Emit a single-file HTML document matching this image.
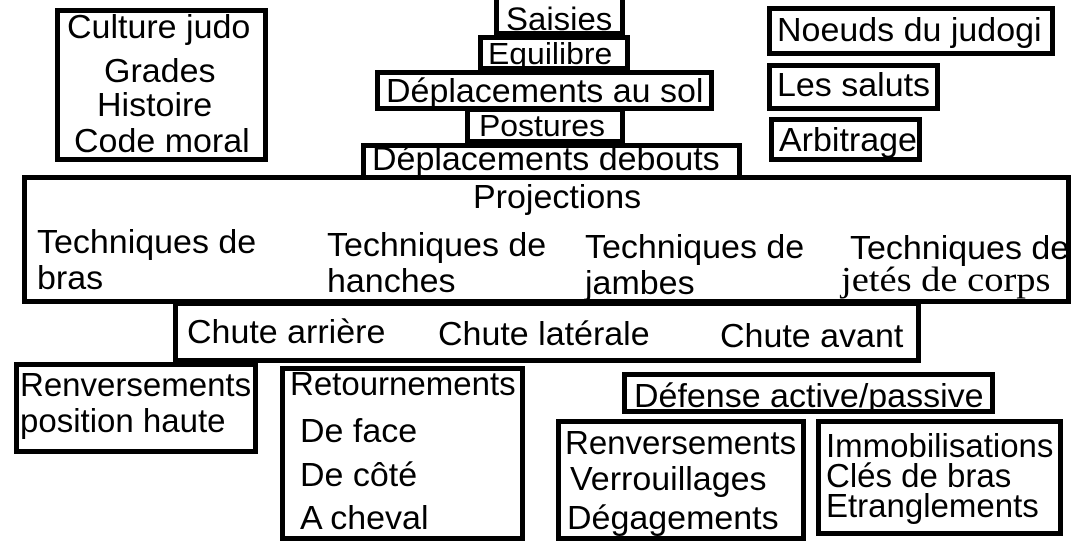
<!DOCTYPE html>
<html><head><meta charset="utf-8"><style>
body{margin:0;width:1074px;height:543px;background:#fff;position:relative;overflow:hidden;font-family:"Liberation Sans",Arial,sans-serif;color:#000}
.b{position:absolute;border:5px solid #000;box-sizing:border-box;background:#fff;z-index:1}
.t{position:absolute;white-space:nowrap;font-size:33px;line-height:1;transform:scaleX(1.03);transform-origin:0 0;z-index:2}
</style></head><body>
<div class="b" style="left:55px;top:8px;width:213px;height:154px"></div>
<div class="t" style="left:67px;top:10px">Culture judo</div>
<div class="t" style="left:104px;top:54px">Grades</div>
<div class="t" style="left:97px;top:88px">Histoire</div>
<div class="t" style="left:74px;top:124px">Code moral</div>

<div class="b" style="left:494px;top:-5px;width:131px;height:41px"></div>
<div class="t" style="left:506px;top:3px;font-size:32px">Saisies</div>
<div class="b" style="left:478px;top:35px;width:152px;height:36px"></div>
<div class="t" style="left:488px;top:38px;font-size:31px">Equilibre</div>
<div class="b" style="left:375px;top:70px;width:339px;height:41px"></div>
<div class="t" style="left:386px;top:74px">Déplacements au sol</div>
<div class="b" style="left:465px;top:107px;width:160px;height:37px"></div>
<div class="t" style="left:479px;top:110px;font-size:31px">Postures</div>
<div class="b" style="left:361px;top:143px;width:381px;height:40px"></div>
<div class="t" style="left:372px;top:142px">Déplacements debouts</div>

<div class="b" style="left:767px;top:6px;width:288px;height:50px"></div>
<div class="t" style="left:777px;top:13px">Noeuds du judogi</div>
<div class="b" style="left:767px;top:63px;width:173px;height:48px"></div>
<div class="t" style="left:777px;top:68px">Les saluts</div>
<div class="b" style="left:769px;top:117px;width:153px;height:45px"></div>
<div class="t" style="left:779px;top:123px">Arbitrage</div>

<div class="b" style="left:22px;top:175px;width:1049px;height:129px"></div>
<div class="t" style="left:473px;top:180px">Projections</div>
<div class="t" style="left:37px;top:224px;line-height:36px">Techniques de<br>bras</div>
<div class="t" style="left:327px;top:227px;line-height:36px">Techniques de<br>hanches</div>
<div class="t" style="left:585px;top:229px;line-height:36px">Techniques de<br>jambes</div>
<div class="t" style="left:850px;top:231px">Techniques de</div>
<div class="t" style="left:841px;top:262px;font-family:'Liberation Serif',serif;font-size:35px;transform:scaleX(1.1)">jetés de corps</div>

<div class="b" style="left:173px;top:301px;width:748px;height:62px"></div>
<div class="t" style="left:187px;top:315px">Chute arrière</div>
<div class="t" style="left:438px;top:317px">Chute latérale</div>
<div class="t" style="left:720px;top:319px">Chute avant</div>

<div class="b" style="left:14px;top:362px;width:244px;height:92px"></div>
<div class="t" style="left:20px;top:367px;line-height:36px;transform:scaleX(1.0)">Renversements<br>position haute</div>
<div class="b" style="left:280px;top:366px;width:245px;height:175px"></div>
<div class="t" style="left:290px;top:367px;transform:scaleX(1.0)">Retournements</div>
<div class="t" style="left:300px;top:414px">De face</div>
<div class="t" style="left:300px;top:458px">De côté</div>
<div class="t" style="left:300px;top:501px">A cheval</div>

<div class="b" style="left:622px;top:372px;width:373px;height:42px"></div>
<div class="t" style="left:634px;top:379px">Défense active/passive</div>
<div class="b" style="left:556px;top:419px;width:250px;height:122px"></div>
<div class="t" style="left:565px;top:426px;transform:scaleX(1.0)">Renversements</div>
<div class="t" style="left:570px;top:462px">Verrouillages</div>
<div class="t" style="left:567px;top:501px">Dégagements</div>
<div class="b" style="left:816px;top:419px;width:247px;height:117px"></div>
<div class="t" style="left:826px;top:431px;line-height:30px;transform:scaleX(1.0)">Immobilisations<br>Clés de bras<br>Etranglements</div>
</body></html>
